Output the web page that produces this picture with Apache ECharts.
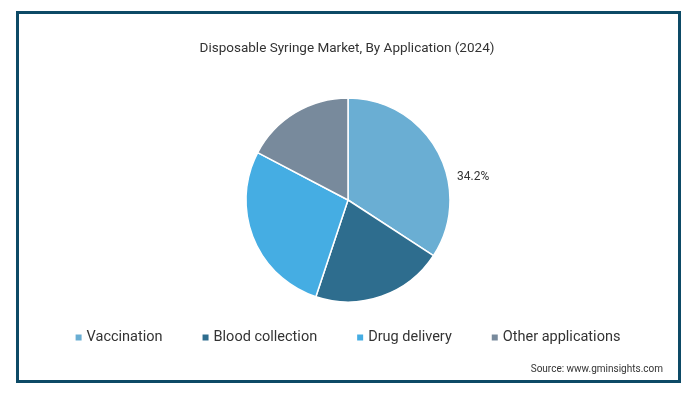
<!DOCTYPE html>
<html><head><meta charset="utf-8">
<script src="https://cdn.jsdelivr.net/npm/echarts@6/dist/echarts.min.js"></script>
<style>html,body{margin:0;padding:0;background:#fff}#c{width:694px;height:396px}</style>
</head><body><div id="c"></div>
<script>
var categories = ['Vaccination', 'Blood collection', 'Drug delivery', 'Other applications'];
var values = [34.2, 20.9, 27.6, 17.3];
var colors = ['#6aaed3', '#2e6d8e', '#45ade3', '#788a9c'];
var titleText = 'Disposable Syringe Market, By Application (2024)';
var sourceText = 'Source: www.gminsights.com';

var chart = echarts.init(document.getElementById('c'));
var font = 'Roboto';
chart.setOption({
  animation: false,
  title: {
    text: titleText, left: 'center', top: 37,
    textStyle: { fontFamily: font, fontSize: 13.5, fontWeight: 'normal', color: '#333' }
  },
  legend: {
    data: categories, bottom: 46, left: 'center',
    icon: 'rect', itemWidth: 8, itemHeight: 8, itemGap: 38,
    textStyle: { fontFamily: font, fontSize: 14.5, color: '#333', padding: [0,0,0,-1] }
  },
  graphic: [
    { type: 'rect', shape: { x: 17.5, y: 12.5, width: 662, height: 369 },
      style: { fill: 'none', stroke: '#0d4a66', lineWidth: 3 } },
    { type: 'text', right: 31, top: 364,
      style: { text: sourceText, fontFamily: font, fontSize: 10, fill: '#333' } }
  ],
  series: [{
    type: 'pie', center: [348, 200], radius: 102, startAngle: 90, clockwise: true,
    data: categories.map(function (c, i) {
      return { name: c, value: values[i], itemStyle: { color: colors[i] },
        label: { show: i === 0 } };
    }),
    itemStyle: { borderColor: '#fff', borderWidth: 1.5 },
    label: { position: 'outside', formatter: '{c}%', fontFamily: font, fontSize: 12, color: '#333' },
    labelLine: { show: false },
    labelLayout: { x: 457, y: 177, align: 'left', verticalAlign: 'middle' },
    emphasis: { disabled: true }
  }]
});
</script></body></html>
